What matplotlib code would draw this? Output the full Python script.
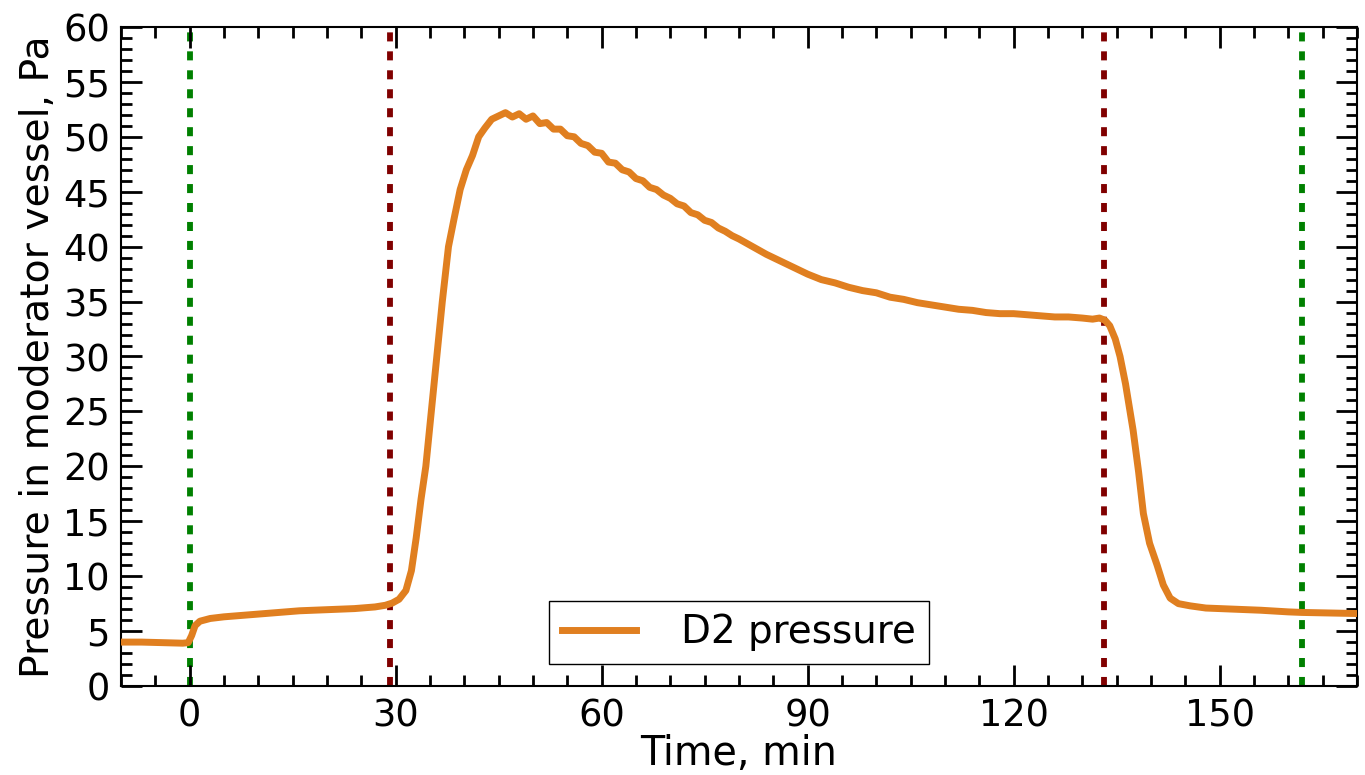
import matplotlib
matplotlib.use("Agg")
import matplotlib.pyplot as plt
from matplotlib.ticker import MultipleLocator

# Time (min) and D2 pressure (Pa)
time = [-10, -7, -4, -1, -0.2, 0.3, 0.8, 1.5, 3, 5, 8, 12, 16, 20, 24, 27, 28.5, 29.5, 30.5, 31.5,
        32.3, 33, 33.7, 34.4, 35.2, 36, 36.8, 37.7, 38.5, 39.4, 40.3, 41.2, 42.1, 43, 44, 45, 46, 47,
        48, 49, 50, 51, 52, 53, 54, 55, 56, 57, 58, 59, 60, 61, 62, 63, 64, 65, 66, 67, 68, 69, 70,
        71, 72, 73, 74, 75, 76, 77, 78, 79, 80, 82, 84, 86, 88, 90, 92, 94, 96, 98, 100, 102, 104,
        106, 108, 110, 112, 114, 116, 118, 120, 122, 124, 126, 128, 130, 131.5, 132.5, 133.3, 134,
        134.8, 135.5, 136.3, 137.4, 138.2, 138.9, 139.8, 140.9, 141.8, 142.8, 144, 145.7, 148, 152,
        156, 160, 162, 166, 170]
pressure = [4.0, 4.0, 3.95, 3.9, 3.95, 4.6, 5.5, 5.9, 6.15, 6.3, 6.45, 6.65, 6.85, 6.95, 7.05, 7.2,
            7.35, 7.55, 7.9, 8.7,
            10.5, 13.5, 17.0, 20.0, 25.0, 30.0, 35.0, 40.0, 42.5, 45.2, 47.0, 48.3, 50.0, 50.8, 51.6,
            51.9, 52.2, 51.8, 52.1, 51.6, 51.9, 51.2, 51.3, 50.7, 50.7, 50.1, 50.0, 49.4, 49.2, 48.6,
            48.5, 47.7, 47.6, 47.0, 46.8, 46.2, 46.0, 45.4, 45.2, 44.7, 44.4, 43.9, 43.7, 43.1, 42.9,
            42.4, 42.2, 41.7, 41.4, 41.0, 40.7, 40.0, 39.3, 38.7, 38.1, 37.5, 37.0, 36.7, 36.3, 36.0,
            35.8, 35.4, 35.2, 34.9, 34.7, 34.5, 34.3, 34.2, 34.0, 33.9, 33.9, 33.8, 33.7, 33.6, 33.6,
            33.5, 33.4, 33.5, 33.3, 32.8,
            31.6, 30.0, 27.5, 23.3, 19.5, 15.7, 13.0, 11.0, 9.2, 8.0, 7.5, 7.3, 7.1, 7.0,
            6.9, 6.75, 6.7, 6.65, 6.6]

phase_start = [0, 162]        # green markers
phase_pump = [29.2, 133.1]    # dark red markers

xticks = [0, 30, 60, 90, 120, 150]
yticks = list(range(0, 61, 5))

fig = plt.figure(figsize=(13.65, 7.75), dpi=100)
ax = fig.add_axes([0.0886, 0.1148, 0.9055, 0.8504])

dot = (0, (1.55, 1.7))
for xv in phase_start:
    ax.axvline(xv, color="#008000", lw=4.2, ls=dot, zorder=1)
for xv in phase_pump:
    ax.axvline(xv, color="#800000", lw=4.2, ls=dot, zorder=1)

ax.plot(time, pressure, color="#e07f20", lw=5, label="D2 pressure", zorder=3)

ax.set_xlim(-10, 170)
ax.set_ylim(0, 60)
ax.set_xticks(xticks)
ax.set_yticks(yticks)
ax.xaxis.set_minor_locator(MultipleLocator(5))
ax.yaxis.set_minor_locator(MultipleLocator(1))
ax.tick_params(which="both", direction="in", top=True, right=True, labelsize=26.5, width=2)
ax.tick_params(which="major", length=15, pad=8)
ax.tick_params(which="minor", length=8, width=2)
for s in ax.spines.values():
    s.set_linewidth(1.5)

ax.set_xlabel("Time, min", fontsize=28.5, labelpad=0)
ax.set_ylabel("Pressure in moderator vessel, Pa", fontsize=28.3, labelpad=4)

leg = ax.legend(loc="lower center", bbox_to_anchor=(0.5, 0.033), borderaxespad=0, fontsize=28,
                fancybox=False, edgecolor="black", framealpha=1, handlelength=1.9,
                handletextpad=1.15, borderpad=0.33)
leg.get_frame().set_linewidth(1.0)

fig.savefig("out.png", dpi=100)
